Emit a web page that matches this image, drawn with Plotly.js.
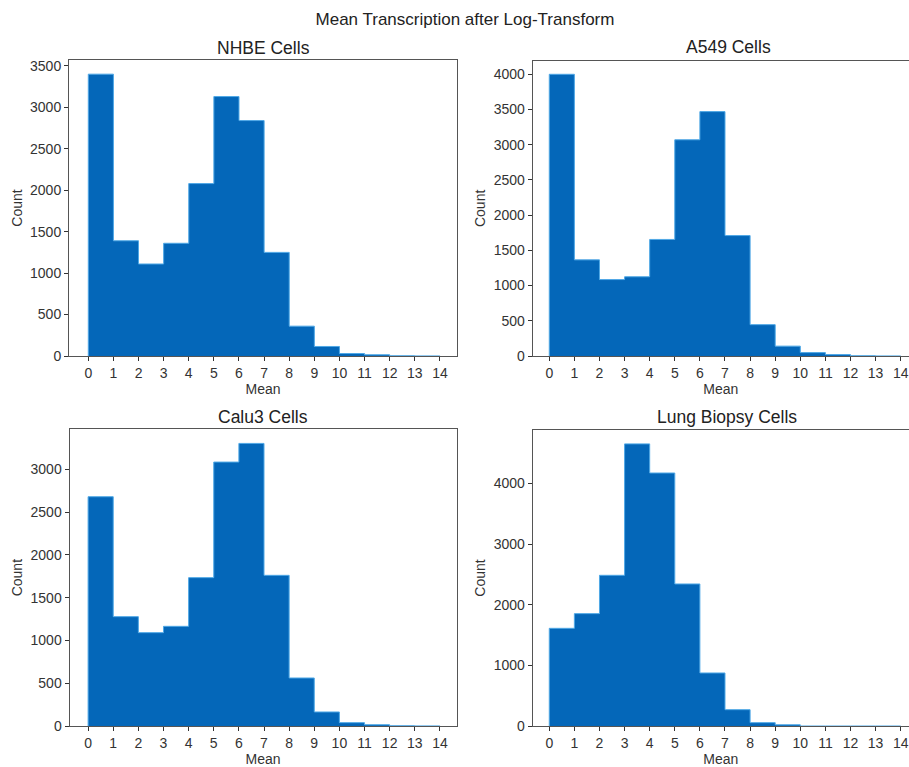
<!DOCTYPE html>
<html>
<head>
<meta charset="utf-8">
<script src="https://cdn.plot.ly/plotly-3.0.1.min.js"></script>
<style>html,body{margin:0;padding:0;background:#fff;}#chart{width:909px;height:767px;}</style>
</head>
<body>
<div id="chart"></div>
<script>
// Bin left edges (Mean, width 1); last edge closes the final bin
const binEdges = [0,1,2,3,4,5,6,7,8,9,10,11,12,13];
const lastEdge = 14;
const xTicks = [0,1,2,3,4,5,6,7,8,9,10,11,12,13,14];

const panelTitles = ["NHBE Cells", "A549 Cells", "Calu3 Cells", "Lung Biopsy Cells"];

const nhbeCounts   = [3400, 1390, 1110, 1360, 2080, 3130, 2840, 1250, 360, 115, 30, 15, 3, 1];
const a549Counts   = [4000, 1365, 1085, 1125, 1655, 3070, 3470, 1710, 445, 140, 48, 20, 4, 1];
const calu3Counts  = [2680, 1278, 1091, 1165, 1734, 3085, 3303, 1761, 561, 164, 39, 15, 3, 1];
const biopsyCounts = [1610, 1852, 2484, 4650, 4170, 2341, 874, 269, 55, 20, 0, 0, 0, 0];

const yTicksNHBE   = [0,500,1000,1500,2000,2500,3000,3500];
const yTicksA549   = [0,500,1000,1500,2000,2500,3000,3500,4000];
const yTicksCalu3  = [0,500,1000,1500,2000,2500,3000];
const yTicksBiopsy = [0,1000,2000,3000,4000];

const series = [nhbeCounts, a549Counts, calu3Counts, biopsyCounts];
const barColor = "#0467B9";
const edgeColor = "#4FA8E6";
const font = "Liberation Sans, Arial, sans-serif";

// step-filled histogram (like matplotlib histtype='stepfilled')
const traces = series.map((vals, i) => {
  const xs = [binEdges[0]].concat(binEdges, [lastEdge, lastEdge]);
  const ys = [0].concat(vals, [vals[vals.length - 1], 0]);
  return {
    type: "scatter", mode: "lines",
    x: xs, y: ys,
    line: {shape: "hv", color: edgeColor, width: 1},
    fill: "tozeroy", fillcolor: barColor,
    xaxis: i === 0 ? "x" : "x" + (i + 1),
    yaxis: i === 0 ? "y" : "y" + (i + 1),
    hoverinfo: "x+y", showlegend: false
  };
});

function xAxis(domain, range, anchor) {
  return {
    domain: domain, range: range, anchor: anchor,
    tickmode: "array", tickvals: xTicks, ticktext: xTicks.map(String),
    ticks: "outside", ticklen: 4, tickwidth: 1, tickcolor: "#333",
    showline: true, linecolor: "#555", linewidth: 1, mirror: true,
    showgrid: false, zeroline: false, ticklabeloverflow: "allow",
    tickfont: {family: font, size: 14, color: "#333"},
    title: {text: "Mean", font: {family: font, size: 14, color: "#333"}, standoff: 2}
  };
}
function yAxis(domain, range, anchor, ticks, mirror) {
  return {
    domain: domain, range: range, anchor: anchor,
    tickmode: "array", tickvals: ticks, ticktext: ticks.map(String),
    ticks: "outside", ticklen: 4, tickwidth: 1, tickcolor: "#333",
    showline: true, linecolor: "#555", linewidth: 1, mirror: mirror,
    showgrid: false, zeroline: false,
    tickfont: {family: font, size: 14, color: "#333"},
    title: {text: "Count", font: {family: font, size: 14, color: "#333"}, standoff: 4}
  };
}

const H = 767, W = 909;
const py = v => 1 - v / H;
const px = v => v / W;

const layout = {
  width: W, height: H,
  margin: {l: 0, r: 0, t: 0, b: 0},
  paper_bgcolor: "#fff", plot_bgcolor: "#fff",
  font: {family: font, color: "#333"},
  title: {text: "Mean Transcription after Log-Transform", x: px(465), xanchor: "center", y: 1 - 19 / H, yanchor: "middle",
          font: {family: font, size: 17, color: "#222"}},
  xaxis:  xAxis([px(69), px(457)], [-0.768, 14.68], "y"),
  yaxis:  yAxis([py(356), py(60)], [0, 3571], "x", yTicksNHBE, true),
  xaxis2: xAxis([px(532.7), 1], [-0.66, 14.33], "y2"),
  yaxis2: yAxis([py(356), py(60.7)], [0, 4193], "x2", yTicksA549, false),
  xaxis3: xAxis([px(69.5), px(456.5)], [-0.74, 14.66], "y3"),
  yaxis3: yAxis([py(726), py(429.3)], [0, 3468], "x3", yTicksCalu3, true),
  xaxis4: xAxis([px(532.7), 1], [-0.66, 14.33], "y4"),
  yaxis4: yAxis([py(726), py(430)], [0, 4879], "x4", yTicksBiopsy, false),
  annotations: [
    {text: panelTitles[0], x: 263, y: 48},
    {text: panelTitles[1], x: 728, y: 47},
    {text: panelTitles[2], x: 263, y: 417},
    {text: panelTitles[3], x: 727, y: 417}
  ].map(a => ({
    text: a.text, xref: "paper", yref: "paper", x: px(a.x), y: py(a.y),
    xanchor: "center", yanchor: "middle", showarrow: false,
    font: {family: font, size: 17.5, color: "#222"}
  }))
};

Plotly.newPlot("chart", traces, layout, {displayModeBar: false, staticPlot: true});
</script>
</body>
</html>
